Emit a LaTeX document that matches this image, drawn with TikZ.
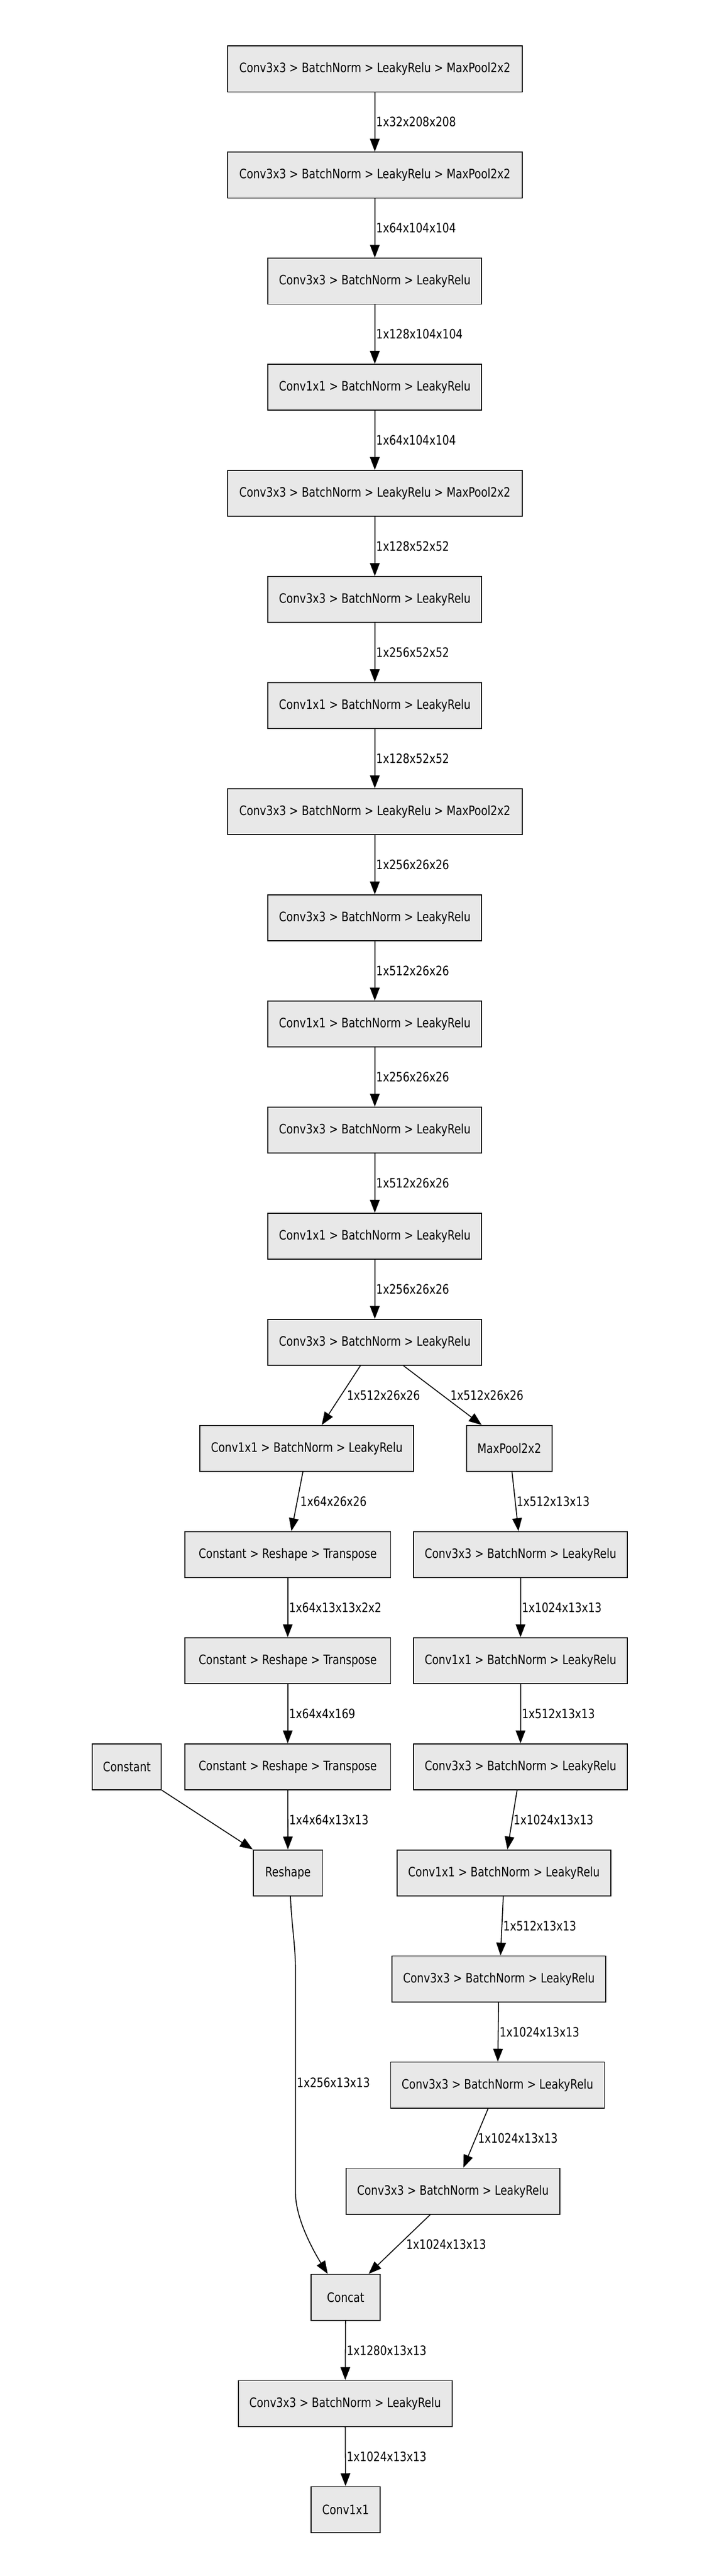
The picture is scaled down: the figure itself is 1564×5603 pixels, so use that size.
\documentclass[tikz,border=0pt]{standalone}
\usepackage{fontspec}
\setmainfont{DejaVu Sans}[FakeStretch=0.82]
\usetikzlibrary{arrows.meta}
\definecolor{boxgray}{HTML}{E8E8E8}

\begin{document}
\begin{tikzpicture}[x=0.5pt, y=-0.5pt, >={Triangle[length=14pt,width=10.5pt]}, font=\fontsize{14.1pt}{16pt}\selectfont]

    \path[use as bounding box, fill=white] (0,0) rectangle (1564,5603);

        \begin{scope}[every node/.style={rectangle,draw,line width=1pt,fill=boxgray,minimum height=50pt,inner sep=0pt}]
            % main column
            \node[minimum width=320.5pt] (1) at (815.5,150) {Conv3x3 > BatchNorm > LeakyRelu > MaxPool2x2};
            \node[minimum width=320.5pt] (2) at (815.5,380.8) {Conv3x3 > BatchNorm > LeakyRelu > MaxPool2x2};
            \node[minimum width=232.5pt] (3) at (815.5,611.6) {Conv3x3 > BatchNorm > LeakyRelu};
            \node[minimum width=232.5pt] (4) at (815.5,842.4) {Conv1x1 > BatchNorm > LeakyRelu};
            \node[minimum width=320.5pt] (5) at (815.5,1073.2) {Conv3x3 > BatchNorm > LeakyRelu > MaxPool2x2};
            \node[minimum width=232.5pt] (6) at (815.5,1304) {Conv3x3 > BatchNorm > LeakyRelu};
            \node[minimum width=232.5pt] (7) at (815.5,1534.8) {Conv1x1 > BatchNorm > LeakyRelu};
            \node[minimum width=320.5pt] (8) at (815.5,1765.6) {Conv3x3 > BatchNorm > LeakyRelu > MaxPool2x2};
            \node[minimum width=232.5pt] (9) at (815.5,1996.4) {Conv3x3 > BatchNorm > LeakyRelu};
            \node[minimum width=232.5pt] (10) at (815.5,2227.2) {Conv1x1 > BatchNorm > LeakyRelu};
            \node[minimum width=232.5pt] (11) at (815.5,2458) {Conv3x3 > BatchNorm > LeakyRelu};
            \node[minimum width=232.5pt] (12) at (815.5,2688.8) {Conv1x1 > BatchNorm > LeakyRelu};
            \node[minimum width=232.5pt] (13) at (815.5,2919.6) {Conv3x3 > BatchNorm > LeakyRelu};

            % left branch
            \node[minimum width=232.5pt] (14) at (667.5,3150.4) {Conv1x1 > BatchNorm > LeakyRelu};
            \node[minimum width=224pt] (16) at (626,3381.2) {Constant > Reshape > Transpose};
            \node[minimum width=224pt] (18) at (626,3612) {Constant > Reshape > Transpose};
            \node[minimum width=75pt] (20) at (276,3842.8) {Constant};
            \node[minimum width=224pt] (21) at (626,3842.8) {Constant > Reshape > Transpose};
            \node[minimum width=75.5pt] (23) at (626.5,4073.6) {Reshape};

            % right branch
            \node[minimum width=93pt] (15) at (1108,3150.4) {MaxPool2x2};
            \node[minimum width=232.5pt] (17) at (1132.5,3381.2) {Conv3x3 > BatchNorm > LeakyRelu};
            \node[minimum width=232.5pt] (19) at (1132.5,3612) {Conv1x1 > BatchNorm > LeakyRelu};
            \node[minimum width=232.5pt] (22) at (1132.5,3842.8) {Conv3x3 > BatchNorm > LeakyRelu};
            \node[minimum width=232.5pt] (24) at (1096.5,4073.6) {Conv1x1 > BatchNorm > LeakyRelu};
            \node[minimum width=232.5pt] (25) at (1085.5,4304.4) {Conv3x3 > BatchNorm > LeakyRelu};
            \node[minimum width=232.5pt] (26) at (1082.5,4535.2) {Conv3x3 > BatchNorm > LeakyRelu};
            \node[minimum width=232.5pt] (27) at (985.5,4766) {Conv3x3 > BatchNorm > LeakyRelu};

            % tail
            \node[minimum width=75pt] (28) at (752,4996.8) {Concat};
            \node[minimum width=232.5pt] (29) at (751,5227.6) {Conv3x3 > BatchNorm > LeakyRelu};
            \node[minimum width=75pt] (30) at (752,5458.4) {Conv1x1};
        \end{scope}

        \begin{scope}[every node/.style={anchor=west,inner sep=1pt}, every edge/.style={draw,line width=1pt}]
            \path [->] (1) edge node {1x32x208x208} (2);
            \path [->] (2) edge node {1x64x104x104} (3);
            \path [->] (3) edge node {1x128x104x104} (4);
            \path [->] (4) edge node {1x64x104x104} (5);
            \path [->] (5) edge node {1x128x52x52} (6);
            \path [->] (6) edge node {1x256x52x52} (7);
            \path [->] (7) edge node {1x128x52x52} (8);
            \path [->] (8) edge node {1x256x26x26} (9);
            \path [->] (9) edge node {1x512x26x26} (10);
            \path [->] (10) edge node {1x256x26x26} (11);
            \path [->] (11) edge node {1x512x26x26} (12);
            \path [->] (12) edge node {1x256x26x26} (13);

            \path [->] ([xshift=-15.75pt]13.south) edge node[xshift=5pt] {1x512x26x26} ([xshift=16.25pt]14.north);
            \path [->] ([xshift=31.25pt]13.south) edge node[xshift=7pt] {1x512x26x26} ([xshift=-30pt]15.north);

            \path [->] ([xshift=-4.25pt]14.south) edge node[xshift=2pt] {1x64x26x26} ([xshift=4pt]16.north);
            \path [->] (16) edge node {1x64x13x13x2x2} (18);
            \path [->] (18) edge node {1x64x4x169} (21);
            \path [->] (21) edge node {1x4x64x13x13} (23);
            \path [->] (20.south east) edge (23.north west);

            \path [->] ([xshift=3pt]15.south) edge node {1x512x13x13} ([xshift=-2.25pt]17.north);
            \path [->] (17) edge node {1x1024x13x13} (19);
            \path [->] (19) edge node {1x512x13x13} (22);
            \path [->] ([xshift=-3.75pt]22.south) edge node {1x1024x13x13} ([xshift=3.75pt]24.north);
            \path [->] ([xshift=-0.75pt]24.south) edge node {1x512x13x13} ([xshift=1.75pt]25.north);
            \path [->] (25) edge node {1x1024x13x13} (26);
            \path [->] ([xshift=-10.25pt]26.south) edge node[xshift=1pt] {1x1024x13x13} ([xshift=11.25pt]27.north);
            \path [->] ([xshift=-24.75pt]27.south) edge node[xshift=6pt] {1x1024x13x13} ([xshift=25pt]28.north);

            \draw [->, line width=1pt] ([xshift=2.75pt]23.south) .. controls +(2,60) and +(0,-60) .. (643,4290)
                -- node {1x256x13x13} (643,4770) .. controls +(0,60) and +(-25,-40) .. ([xshift=-19.5pt]28.north);

            \path [->] (28) edge node {1x1280x13x13} (29);
            \path [->] (29) edge node {1x1024x13x13} (30);
        \end{scope}

\end{tikzpicture}
\end{document}
